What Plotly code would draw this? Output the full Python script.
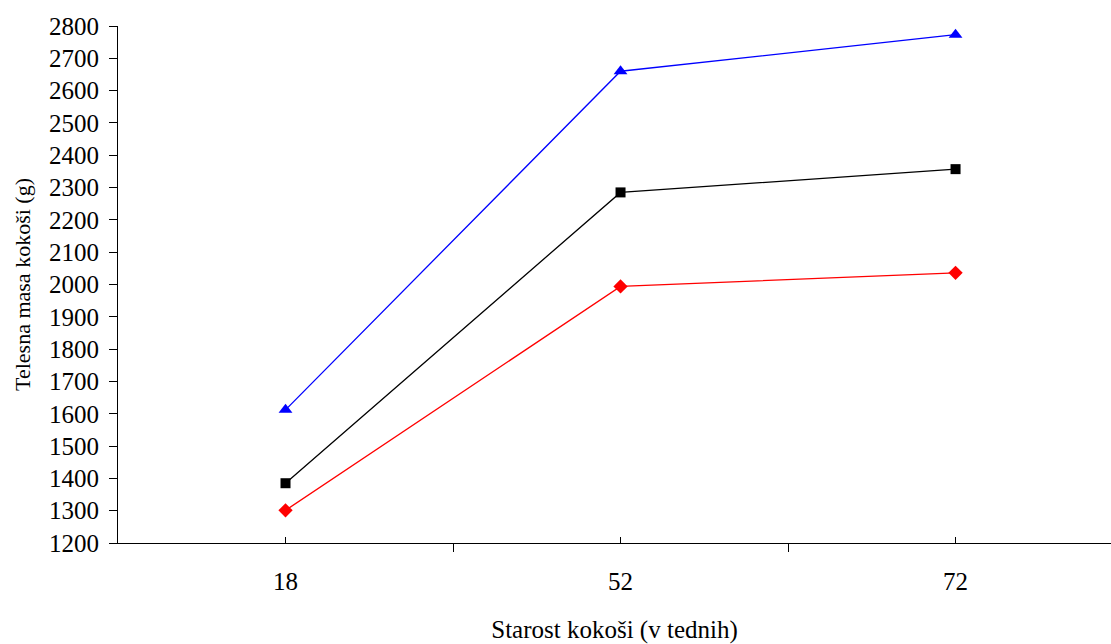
import plotly.graph_objects as go

# Age of hens (weeks) and body mass (g) for three groups
weeks = ["18", "52", "72"]
mass_blue = [1612, 2660, 2773]
mass_black = [1385, 2285, 2357]
mass_red = [1301, 1994, 2036]

positions = list(range(len(weeks)))
serif = "Liberation Serif"

fig = go.Figure()

series = [
    (mass_blue, "#0000FF", "triangle-up", 12),
    (mass_black, "#000000", "square", 10),
    (mass_red, "#FF0000", "diamond", 11),
]
for values, color, symbol, size in series:
    fig.add_trace(go.Scatter(
        x=positions,
        y=values,
        mode="lines+markers",
        line=dict(color=color, width=1.3),
        marker=dict(symbol=symbol, size=size, color=color),
        showlegend=False,
        cliponaxis=False,
    ))

fig.update_layout(
    width=1111,
    height=644,
    margin=dict(l=118, r=0, t=26, b=101),
    paper_bgcolor="white",
    plot_bgcolor="white",
    font=dict(family=serif, size=25, color="black"),
    xaxis=dict(
        range=[-0.5, 2.464],
        tickmode="array",
        tickvals=positions,
        ticktext=weeks,
        ticks="inside",
        ticklen=6,
        tickwidth=1,
        tickcolor="black",
        ticklabelstandoff=16,
        minor=dict(ticks="outside", tick0=-0.5, dtick=1, ticklen=8,
                   tickwidth=1, tickcolor="black", showgrid=False),
        showline=True,
        linecolor="black",
        linewidth=1,
        showgrid=False,
        zeroline=False,
        title=dict(text="Starost kokoši (v tednih)",
                   font=dict(family=serif, size=25), standoff=28),
        tickfont=dict(family=serif, size=25),
    ),
    yaxis=dict(
        range=[1200, 2800],
        dtick=100,
        tick0=1200,
        ticks="outside",
        ticklen=8,
        tickwidth=1,
        tickcolor="black",
        ticklabelstandoff=5,
        showline=True,
        linecolor="black",
        linewidth=1,
        showgrid=False,
        zeroline=False,
        title=dict(text="Telesna masa kokoši (g)",
                   font=dict(family=serif, size=22), standoff=12),
        tickfont=dict(family=serif, size=25),
    ),
)

fig.write_html("out.html")
